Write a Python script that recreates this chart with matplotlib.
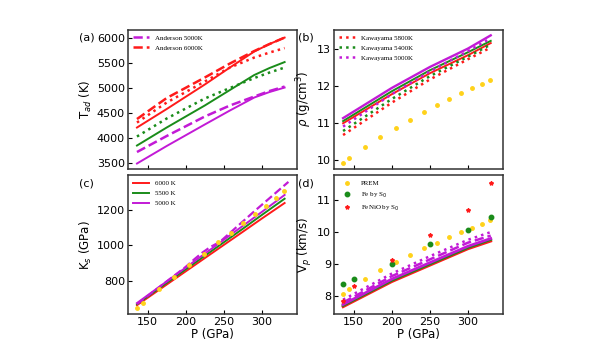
import matplotlib
matplotlib.use("Agg")
import matplotlib.pyplot as plt

RED = "#ff1a1a"
GREEN = "#1a8c1a"
MAG = "#c21ad6"
GOLD = "#ffd21a"

# PREM reference points (shared pressures)
P_prem = [135.8, 144.2, 164.7, 184.8, 205.0, 224.3, 242.5, 260.0, 275.8, 291.5, 305.5, 318.4, 328.8]
rho_prem = [9.92, 10.04, 10.34, 10.61, 10.86, 11.09, 11.30, 11.48, 11.65, 11.81, 11.95, 12.07, 12.17]
ks_prem = [651, 679, 754, 821, 889, 954, 1018, 1072, 1125, 1178, 1222, 1267, 1302]
vp_prem = [8.08, 8.21, 8.52, 8.80, 9.06, 9.27, 9.50, 9.66, 9.84, 9.98, 10.12, 10.25, 10.36]

# Vp from S0 measurements
P_s0 = [136, 150, 200, 250, 300, 330]
vp_fe = [8.39, 8.52, 9.01, 9.63, 10.07, 10.46]
vp_fenio = [7.85, 8.31, 9.11, 9.89, 10.69, 11.53]

# (a) adiabats
P_a = [136, 175, 225, 258, 290, 310, 330]
T_6000 = [4200, 4570, 5060, 5400, 5720, 5870, 6000]
T_and6000 = [4370, 4790, 5200, 5480, 5730, 5870, 6000]
T_red_dot = [4300, 4700, 5120, 5400, 5600, 5700, 5790]
T_5500 = [3840, 4200, 4640, 4950, 5250, 5390, 5510]
T_green_dot = [4020, 4380, 4780, 4990, 5190, 5300, 5400]
T_5000 = [3480, 3830, 4260, 4540, 4800, 4910, 5000]
T_and5000 = [3710, 4030, 4420, 4640, 4820, 4930, 5020]

# (b) density
P_b = [136, 200, 250, 300, 330]
rho_5000 = [11.13, 11.95, 12.52, 13.02, 13.38]
rho_5500 = [11.05, 11.86, 12.43, 12.92, 13.23]
rho_6000 = [10.99, 11.78, 12.35, 12.84, 13.17]
rho_kw5800 = [10.67, 11.55, 12.18, 12.73, 13.05]
rho_kw5400 = [10.78, 11.65, 12.27, 12.80, 13.13]
rho_kw5000 = [10.90, 11.78, 12.40, 12.95, 13.30]

# (c) bulk modulus
P_c = [136, 200, 240, 275, 300, 330]
ks_6000 = [666, 855, 973, 1076, 1150, 1237]
ks_5500 = [672, 866, 987, 1093, 1170, 1261]
ks_5000 = [678, 876, 1000, 1109, 1187, 1282]
P_c_dash = [136, 200, 212, 222, 232, 245, 290, 335]
ks_dash = [672, 880, 925, 960, 990, 1020, 1190, 1355]

# (d) Vp
P_d = [136, 200, 250, 300, 330]
vp_6000 = [7.67, 8.45, 8.96, 9.47, 9.71]
vp_5500 = [7.71, 8.49, 9.00, 9.51, 9.76]
vp_5000 = [7.74, 8.53, 9.04, 9.55, 9.79]
vp_dash = [7.80, 8.62, 9.14, 9.66, 9.88]
vp_dot = [7.89, 8.70, 9.24, 9.75, 9.99]

fig, axs = plt.subplots(2, 2, figsize=(6.03, 3.51), dpi=100)
fig.subplots_adjust(left=0.212, right=0.834, top=0.915, bottom=0.105, wspace=0.22, hspace=0.05)
ax_a, ax_b, ax_c, ax_d = axs.ravel()

lw = 1.4
leg_kw = dict(loc="upper left", frameon=False, prop={"family": "Liberation Serif", "size": 5},
              handlelength=2.4, labelspacing=0.6, borderaxespad=0.3)

# (a)
ax_a.plot(P_a, T_6000, color=RED, lw=lw)
ax_a.plot(P_a, T_red_dot, color=RED, lw=1.8, ls=":")
ax_a.plot(P_a, T_5500, color=GREEN, lw=lw)
ax_a.plot(P_a, T_green_dot, color=GREEN, lw=1.8, ls=":")
ax_a.plot(P_a, T_5000, color=MAG, lw=lw)
ax_a.plot(P_a, T_and5000, color=MAG, lw=1.8, ls="--", label="Anderson 5000K")
ax_a.plot(P_a, T_and6000, color=RED, lw=1.8, ls="--", label="Anderson 6000K")
ax_a.set_ylim(3380, 6155)
ax_a.set_yticks([3500, 4000, 4500, 5000, 5500, 6000])
ax_a.set_ylabel("T$_{ad}$ (K)")
ax_a.legend(**leg_kw)

# (b)
ax_b.plot(P_b, rho_6000, color=RED, lw=lw)
ax_b.plot(P_b, rho_5500, color=GREEN, lw=lw)
ax_b.plot(P_b, rho_5000, color=MAG, lw=1.7)
ax_b.plot(P_b, rho_kw5800, color=RED, lw=1.8, ls=":", label="Kawayama 5800K")
ax_b.plot(P_b, rho_kw5400, color=GREEN, lw=1.8, ls=":", label="Kawayama 5400K")
ax_b.plot(P_b, rho_kw5000, color=MAG, lw=1.8, ls=":", label="Kawayama 5000K")
ax_b.plot(P_prem, rho_prem, "o", color=GOLD, ms=2.5, lw=0)
ax_b.set_ylim(9.76, 13.53)
ax_b.set_yticks([10, 11, 12, 13])
ax_b.set_ylabel(r"$\rho$ (g/cm$^3$)")
ax_b.legend(**leg_kw)

# (c)
ax_c.plot(P_c, ks_6000, color=RED, lw=lw, label="6000 K")
ax_c.plot(P_c, ks_5500, color=GREEN, lw=lw, label="5500 K")
ax_c.plot(P_c, ks_5000, color=MAG, lw=lw, label="5000 K")
ax_c.plot(P_c_dash, ks_dash, color=MAG, lw=1.6, ls="--")
ax_c.plot(P_prem, ks_prem, "o", color=GOLD, ms=2.5, lw=0)
ax_c.set_ylim(616, 1391)
ax_c.set_yticks([800, 1000, 1200])
ax_c.set_ylabel("K$_s$ (GPa)")
ax_c.legend(**leg_kw)

# (d)
ax_d.plot(P_d, vp_6000, color=RED, lw=2.0)
ax_d.plot(P_d, vp_5500, color=GREEN, lw=2.0)
ax_d.plot(P_d, vp_5000, color=MAG, lw=2.0)
ax_d.plot(P_d, vp_dash, color=MAG, lw=1.8, ls="--")
ax_d.plot(P_d, vp_dot, color=MAG, lw=1.8, ls=":")
ax_d.plot(P_prem, vp_prem, "o", color=GOLD, ms=2.5, lw=0, label="PREM")
ax_d.plot(P_s0, vp_fe, "o", color=GREEN, ms=3.2, lw=0, label="Fe by S$_0$")
ax_d.plot(P_s0, vp_fenio, "*", color=RED, ms=3, lw=0, label="FeNiO by S$_0$")
ax_d.set_ylim(7.44, 11.75)
ax_d.set_yticks([8, 9, 10, 11])
ax_d.set_ylabel("V$_p$ (km/s)")
ax_d.legend(**leg_kw)

for ax, lab in zip(axs.ravel(), ["(a)", "(b)", "(c)", "(d)"]):
    ax.set_xlim(124, 346)
    ax.set_xticks([150, 200, 250, 300])
    ax.tick_params(direction="in", labelsize=8, length=3, pad=2)
    ax.yaxis.label.set_size(8.5)
    ax.xaxis.label.set_size(8.5)
    ax.yaxis.labelpad = 2
    for sp in ax.spines.values():
        sp.set_linewidth(1.1)
        sp.set_color("#333333")
    xoff = -0.245 if lab in ("(a)", "(c)") else -0.165
    ax.text(xoff, 0.945, lab, transform=ax.transAxes, fontsize=8, ha="center", va="center")

for ax in (ax_a, ax_b):
    ax.tick_params(labelbottom=False)
for ax in (ax_c, ax_d):
    ax.set_xlabel("P (GPa)", labelpad=1)

fig.savefig("out.png", dpi=100)
